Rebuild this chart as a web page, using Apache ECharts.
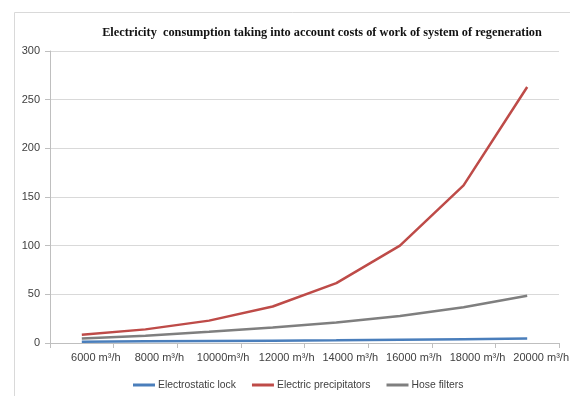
<!DOCTYPE html>
<html>
<head>
<meta charset="utf-8">
<script src="https://cdn.jsdelivr.net/npm/echarts@6/dist/echarts.min.js"></script>
<style>
  html, body { margin: 0; padding: 0; background: #ffffff; }
  #chart { width: 570px; height: 396px; }
</style>
</head>
<body>
<div id="chart"></div>
<script>
// Air flow categories (x axis)
const categories = ['6000 m³/h', '8000 m³/h', '10000m³/h', '12000 m³/h', '14000 m³/h', '16000 m³/h', '18000 m³/h', '20000 m³/h'];

// Electricity consumption per cleaning technology
const electrostaticLock = [1.4, 1.7, 2.0, 2.4, 2.8, 3.3, 3.9, 4.5];
const electricPrecipitators = [8.6, 14, 23, 37.5, 61.5, 100, 162, 263];
const hoseFilters = [4.5, 7.5, 11.5, 16, 21, 27.7, 36.7, 48.6];

// Value axis ticks
const yTicks = [0, 50, 100, 150, 200, 250, 300];

const chart = echarts.init(document.getElementById('chart'), null, { renderer: 'canvas' });

const sansFont = '"Liberation Sans", Arial, sans-serif';

function lineSeries(name, data, color) {
  return {
    name: name,
    type: 'line',
    data: data,
    showSymbol: false,
    smooth: false,
    lineStyle: { color: color, width: 2.5 },
    itemStyle: { color: color }
  };
}

chart.setOption({
  animation: false,
  backgroundColor: '#ffffff',
  title: {
    text: 'Electricity  consumption taking into account costs of work of system of regeneration',
    left: 317,
    top: 22,
    textAlign: 'center',
    textStyle: {
      fontFamily: '"Liberation Serif", "Times New Roman", serif',
      fontWeight: 'bold',
      fontSize: 12.3,
      color: '#111111'
    }
  },
  graphic: [{
    type: 'polyline',
    shape: { points: [[14.5, 396], [14.5, 12.5], [570, 12.5]] },
    style: { stroke: '#d9d9d9', lineWidth: 1, fill: null },
    silent: true
  }],
  legend: {
    left: 133,
    top: 380,
    padding: 0,
    icon: 'rect',
    itemWidth: 22,
    itemHeight: 3,
    itemGap: 16,
    textStyle: { fontFamily: sansFont, fontSize: 10.4, color: '#404040', padding: [0, 0, 0, -2] },
    data: ['Electrostatic lock', 'Electric precipitators', 'Hose filters']
  },
  grid: {
    left: 50,
    right: 11,
    top: 51,
    bottom: 53,
    containLabel: false,
    outerBoundsMode: 'none'
  },
  xAxis: {
    type: 'category',
    data: categories,
    boundaryGap: true,
    axisLine: { show: true, lineStyle: { color: '#bfbfbf', width: 1 } },
    axisTick: { show: true, length: 5, lineStyle: { color: '#bfbfbf' } },
    axisLabel: {
      interval: 0,
      margin: 9,
      fontFamily: sansFont,
      fontSize: 11,
      color: '#404040',
      padding: [0, 0, 0, 28]
    },
    splitLine: { show: false }
  },
  yAxis: {
    type: 'value',
    min: yTicks[0],
    max: yTicks[yTicks.length - 1],
    interval: 50,
    axisLine: { show: true, lineStyle: { color: '#bfbfbf', width: 1 } },
    axisTick: { show: true, length: 5, lineStyle: { color: '#bfbfbf' } },
    axisLabel: {
      margin: 10,
      fontFamily: sansFont,
      fontSize: 11,
      color: '#404040'
    },
    splitLine: { show: true, lineStyle: { color: '#d9d9d9', width: 1 } }
  },
  series: [
    lineSeries('Electrostatic lock', electrostaticLock, '#4a7ebb'),
    lineSeries('Electric precipitators', electricPrecipitators, '#be4b48'),
    lineSeries('Hose filters', hoseFilters, '#7f7f7f')
  ]
});
</script>
</body>
</html>
